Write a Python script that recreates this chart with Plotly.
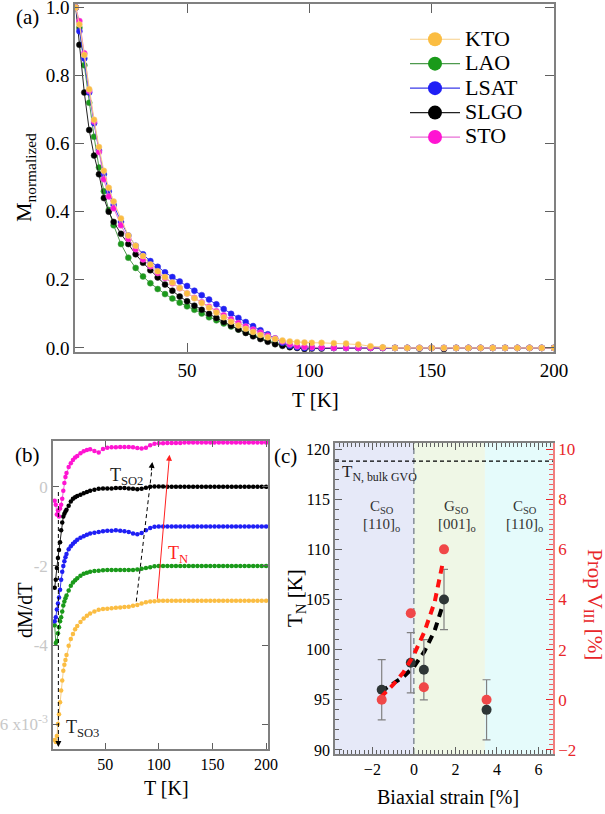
import plotly.graph_objects as go

W, H = 605, 814
FONT = "Liberation Serif, Times New Roman, Times, DejaVu Serif, serif"

# ---------------- panel (a) data ----------------
T_a = [4.5, 6, 8, 10, 12, 14, 16, 18, 20,
       23, 26, 29, 32, 35, 38, 41, 44, 47, 50, 53, 56, 59, 62, 65, 68, 71, 74, 77, 80, 83, 86, 89, 92, 95, 98,
       101,
       105, 110, 115, 120, 125, 130, 135, 140, 145, 150, 155, 160, 165, 170, 175, 180, 185, 190, 195, 200]
M_KTO = [1.0, .95, .86, .76, .67, .59, .52, .47, .43,
         .38, .33, .30, .27, .245, .225, .208, .192, .176, .16, .146, .132, .118, .104, .09, .077, .066, .056, .047, .038, .031, .026, .022, .019, .017, .016,
         .015,
         .015, .014, .013, .010, .005, .002, 0, 0, 0, 0, 0, 0, 0, 0, 0, 0, 0, 0, 0, 0]
M_LAO = [1.0, .94, .83, .72, .62, .53, .46, .405, .36,
         .305, .265, .235, .21, .19, .173, .158, .145, .133, .122, .112, .101, .09, .081, .072, .063, .054, .045, .037, .029, .021, .014, .008, .004, .002, .001,
         .001,
         0, 0, 0, 0, 0, 0, 0, 0, 0, 0, 0, 0, 0, 0, 0, 0, 0, 0, 0, 0]
M_LSAT = [1.0, .93, .85, .75, .66, .58, .51, .46, .42,
          .37, .33, .30, .275, .255, .238, .222, .208, .195, .182, .168, .155, .142, .128, .114, .10, .088, .076, .064, .052, .04, .028, .015, .006, .002, 0,
          0,
          0, 0, 0, 0, 0, 0, 0, 0, 0, 0, 0, 0, 0, 0, 0, 0, 0, 0, 0, 0]
M_SLGO = [1.0, .89, .75, .64, .565, .51, .44, .40, .37,
          .335, .305, .275, .25, .228, .207, .186, .168, .151, .137, .124, .112, .10, .088, .076, .065, .054, .044, .034, .026, .018, .011, .006, .002, 0, -.003,
          -.002,
          -.002, 0, 0, 0, 0, 0, 0, 0, -.002, 0, -.003, 0, 0, 0, 0, 0, 0, 0, 0, 0]
M_STO = [1.0, .96, .865, .755, .665, .575, .495, .445, .41,
         .36, .32, .29, .26, .24, .22, .205, .19, .175, .16, .147, .134, .121, .108, .096, .084, .073, .063, .054, .045, .036, .028, .019, .01, .005, .003,
         .002,
         .001, 0, 0, 0, 0, 0, 0, 0, 0, 0, 0, 0, 0, 0, 0, 0, 0, 0, 0, 0]

# ---------------- panel (b) data (dM/dT, offset curves, x1e-3) ----------------
T_b = [3, 4, 5, 6, 7, 8, 9, 10, 11, 12, 13, 14,
       16, 18, 20, 22, 24, 27, 30, 33, 36,
       40, 44, 48, 52, 56, 60, 64, 68, 72, 76, 80, 84, 88, 92, 96,
       100,
       104, 108, 112, 116, 120, 124, 128, 132, 136, 140, 144, 148, 152, 156, 160, 164, 168, 172, 176, 180, 184, 188, 192, 196, 200]
d_STO = [-0.35, -0.45, -0.7, -0.6, -0.75, -0.55, -0.45, -0.3, -0.1, 0.1, 0.25, 0.35,
         0.5, 0.6, 0.68, 0.74, 0.78, 0.85, 0.9, 0.93, 0.95,
         0.91, 0.87, 0.96, 0.99, 1.0, 1.0, 1.01, 1.01, 1.01, 1.0, 0.98, 0.97, 0.99, 1.05, 1.09,
         1.1,
         1.1, 1.11, 1.11, 1.11, 1.11, 1.12, 1.12, 1.12, 1.12, 1.12, 1.12, 1.12, 1.12, 1.12, 1.12, 1.12, 1.12, 1.12, 1.12, 1.12, 1.12, 1.12, 1.12, 1.12, 1.12]
d_SLGO = [-2.55, -2.35, -2.05, -1.8, -1.6, -1.4, -1.1, -0.9, -0.75, -0.68, -0.62, -0.58,
          -0.48, -0.37, -0.3, -0.26, -0.23, -0.2, -0.16, -0.13, -0.1,
          -0.07, -0.05, -0.04, -0.04, -0.04, -0.03, -0.03, -0.03, -0.04, -0.05, -0.06, -0.05, -0.02, 0.0, 0.01,
          0.01,
          0.01, 0.0, 0.0, 0.0, 0.0, 0.0, 0.0, 0.0, 0.0, 0.0, 0.0, 0.0, 0.0, 0.0, 0.0, 0.0, 0.0, 0.0, 0.0, 0.0, 0.0, 0.0, 0.0, 0.0, 0.0]
d_LSAT = [-3.4, -3.3, -3.1, -2.95, -2.8, -2.6, -2.35, -2.15, -2.0, -1.88, -1.78, -1.7,
          -1.58, -1.5, -1.44, -1.39, -1.34, -1.29, -1.25, -1.21, -1.18,
          -1.16, -1.14, -1.12, -1.11, -1.11, -1.1, -1.11, -1.12, -1.14, -1.18, -1.2, -1.17, -1.1, -1.04, -1.01,
          -1.0,
          -1.0, -1.0, -1.0, -1.0, -1.0, -1.0, -1.0, -1.0, -1.0, -1.0, -1.0, -1.0, -1.0, -1.0, -1.0, -1.0, -1.0, -1.0, -1.0, -1.0, -1.0, -1.0, -1.0, -1.0, -1.0]
d_LAO = [-3.5, -3.95, -3.9, -3.7, -3.55, -3.4, -3.3, -3.15, -3.0, -2.9, -2.82, -2.75,
         -2.62, -2.5, -2.42, -2.36, -2.31, -2.25, -2.2, -2.17, -2.15,
         -2.13, -2.12, -2.11, -2.1, -2.1, -2.1, -2.1, -2.1, -2.1, -2.1, -2.09, -2.07, -2.05, -2.03, -2.01,
         -2.0,
         -2.0, -2.0, -2.0, -2.0, -2.0, -2.0, -2.0, -2.0, -2.0, -2.0, -2.0, -2.0, -2.0, -2.0, -2.0, -2.0, -2.0, -2.0, -2.0, -2.0, -2.0, -2.0, -2.0, -2.0, -2.0]
d_KTO = [-6.4, -6.45, -6.3, -6.0, -5.75, -5.45, -5.15, -4.9, -4.65, -4.5, -4.38, -4.25,
         -4.02, -3.85, -3.72, -3.6, -3.52, -3.42, -3.33, -3.26, -3.2,
         -3.15, -3.11, -3.09, -3.08, -3.07, -3.06, -3.05, -3.04, -3.03, -3.01, -2.99, -2.95, -2.92, -2.9, -2.89,
         -2.88,
         -2.88, -2.88, -2.88, -2.88, -2.88, -2.88, -2.88, -2.88, -2.88, -2.88, -2.88, -2.88, -2.88, -2.88, -2.88, -2.88, -2.88, -2.88, -2.88, -2.88, -2.88, -2.88, -2.88, -2.88, -2.88]

# ---------------- panel (c) data ----------------
strain = [-1.55, -0.15, 0.48, 1.45, 3.5]
T_N = [96.0, 98.7, 98.0, 105.0, 94.0]
T_N_err = [3.0, 3.0, 3.0, 3.0, 3.0]
prop_V = [0.0, 3.45, 0.5, 6.0, 0.0]
fit_strain = [-1.6, -1.0, -0.5, 0.0, 0.5, 1.0, 1.4]
fit_T_N = [95.8, 96.6, 97.3, 98.3, 99.8, 101.9, 104.5]
fit_prop_V = [0.1, 0.6, 1.1, 1.8, 2.7, 3.9, 5.5]
regions = [-3.8, 0.0, 3.42, 6.7]
T_N_bulk = 118.8

labels = ["KTO", "LAO", "LSAT", "SLGO", "STO"]
col = {"KTO": "#fbbd42", "LAO": "#1a9a1a", "LSAT": "#1f1ff5", "SLGO": "#000000", "STO": "#ff14d2"}
lcol = {"KTO": "#f7cf88", "LAO": "#4e9a4e", "LSAT": "#3a3ae8", "SLGO": "#222222", "STO": "#e86fd6"}
M_a = {"KTO": M_KTO, "LAO": M_LAO, "LSAT": M_LSAT, "SLGO": M_SLGO, "STO": M_STO}
D_b = {"KTO": d_KTO, "LAO": d_LAO, "LSAT": d_LSAT, "SLGO": d_SLGO, "STO": d_STO}


def fx(p):
    return p / W


def fy(p):
    return 1 - p / H


fig = go.Figure()

# panel (a)
for k in ["LAO", "SLGO", "LSAT", "STO", "KTO"]:
    fig.add_trace(go.Scatter(x=T_a, y=M_a[k], mode="lines+markers", xaxis="x", yaxis="y",
                             line=dict(color=lcol[k], width=1),
                             marker=dict(color=col[k], size=6, line=dict(color=lcol[k], width=0.5)),
                             showlegend=False))
for k in labels:
    fig.add_trace(go.Scatter(x=[None], y=[None], mode="lines+markers", xaxis="x", yaxis="y",
                             name='<span style="font-size:22px">%s</span>' % k,
                             line=dict(color=lcol[k], width=1.2),
                             marker=dict(color=col[k], size=14), showlegend=True))

# panel (b)
for k in ["KTO", "LAO", "LSAT", "SLGO", "STO"]:
    fig.add_trace(go.Scatter(x=T_b, y=D_b[k], mode="lines+markers", xaxis="x2", yaxis="y2",
                             line=dict(color=lcol[k], width=1),
                             marker=dict(color=col[k], size=4.5),
                             showlegend=False))

# panel (c)
fig.add_trace(go.Scatter(x=fit_strain, y=fit_T_N, mode="lines", xaxis="x3", yaxis="y3",
                         line=dict(color="black", width=4, dash="8px,6px"), showlegend=False))
fig.add_trace(go.Scatter(x=fit_strain, y=fit_prop_V, mode="lines", xaxis="x3", yaxis="y4",
                         line=dict(color="#ff1010", width=4, dash="8px,6px"), showlegend=False))
fig.add_trace(go.Scatter(x=strain, y=T_N, mode="markers", xaxis="x3", yaxis="y3",
                         error_y=dict(type="data", array=T_N_err, color="#808080", thickness=1.2, width=4),
                         marker=dict(color="#2e3636", size=10), showlegend=False))
fig.add_trace(go.Scatter(x=strain, y=prop_V, mode="markers", xaxis="x3", yaxis="y4",
                         marker=dict(color="#f04848", size=10), showlegend=False))

axcommon = dict(showgrid=False, zeroline=False, showline=True, linecolor="#808080", linewidth=1.5,
                ticks="inside", tickcolor="#606060", mirror="ticks", automargin=False,
                ticklabeloverflow="allow")

fig.update_layout(
    width=W, height=H, margin=dict(l=0, r=0, t=0, b=0, autoexpand=False),
    paper_bgcolor="white", plot_bgcolor="white",
    font=dict(family=FONT, color="black"),
    legend=dict(x=fx(405), y=fy(22), xanchor="left", yanchor="top", bgcolor="rgba(0,0,0,0)",
                font=dict(size=16.5, family=FONT), tracegroupgap=0, itemwidth=50),
    xaxis=dict(domain=[fx(75), fx(554)], range=[4.2, 200], anchor="y", tickvals=[50, 100, 150, 200],
               ticklen=9, tickfont=dict(size=19), **axcommon),
    yaxis=dict(domain=[fy(352), fy(4)], range=[-0.012, 1.01], anchor="x", tickvals=[0, 0.2, 0.4, 0.6, 0.8, 1.0],
               ticktext=["0.0", "0.2", "0.4", "0.6", "0.8", "1.0"], ticklen=9, tickfont=dict(size=19), **axcommon),
    xaxis2=dict(domain=[fx(53), fx(268)], range=[1.4, 201.8], anchor="y2", tickvals=[50, 100, 150, 200],
                ticklen=6, tickfont=dict(size=16), **axcommon),
    yaxis2=dict(domain=[fy(749), fy(441)], range=[-6.63, 1.16], anchor="x2", tickvals=[0, -2, -4, -6],
                ticktext=["0", "-2", "-4", "-6 x10<sup>-3</sup>"], ticklen=6,
                tickfont=dict(size=17, color="#c8c8c8"), **axcommon),
    xaxis3=dict(domain=[fx(335), fx(553)], range=[-3.8, 6.7], anchor="y3", tickvals=[-2, 0, 2, 4, 6],
                ticklen=7, tickfont=dict(size=16),
                minor=dict(ticks="inside", dtick=0.2, tick0=0, ticklen=4, tickcolor="#606060"), **axcommon),
    yaxis3=dict(domain=[fy(754), fy(443)], range=[89.6, 120.6], anchor="x3", tickvals=[90, 95, 100, 105, 110, 115, 120],
                ticklen=7, tickfont=dict(size=16),
                minor=dict(ticks="inside", dtick=1, tick0=0, ticklen=4, tickcolor="#606060"),
                showgrid=False, zeroline=False, showline=True, linecolor="#808080", linewidth=1.5,
                ticks="inside", tickcolor="#606060", automargin=False),
    yaxis4=dict(range=[-2.16, 10.24], anchor="x3", overlaying="y3", side="right",
                tickvals=[-2, 0, 2, 4, 6, 8, 10], ticklen=7, tickfont=dict(size=17, color="#e8262a"),
                showgrid=False, zeroline=False, showline=True, linecolor="#f08080", linewidth=1.5,
                ticks="inside", tickcolor="#e8262a", automargin=False,
                minor=dict(ticks="inside", dtick=0.2, tick0=0, ticklen=4, tickcolor="#f06060")),
)

# panel (c) region backgrounds and reference lines
bg = ["#e6e9f8", "#eff7e6", "#e5fbfb"]
for i in range(3):
    fig.add_shape(type="rect", xref="x3", yref="y3 domain", x0=regions[i], x1=regions[i + 1], y0=0, y1=1,
                  fillcolor=bg[i], line=dict(width=0), layer="below")
fig.add_shape(type="line", xref="x3", yref="y3 domain", x0=0, x1=0, y0=0, y1=1,
              line=dict(color="#505a6a", width=1, dash="6px,4px"), layer="below")
fig.add_shape(type="line", xref="x3", yref="y3", x0=regions[0], x1=regions[-1], y0=T_N_bulk, y1=T_N_bulk,
              line=dict(color="black", width=1.2, dash="4px,3px"))

# panel (b) arrows
fig.add_shape(type="line", xref="x2", yref="y2", x0=79, y0=-2.9, x1=93.6, y1=0.45,
              line=dict(color="black", width=1, dash="4px,3px"))
fig.add_shape(type="line", xref="x2", yref="y2", x0=6.4, y0=-0.13, x1=6.4, y1=-6.4,
              line=dict(color="black", width=1, dash="4px,3px"))

C = dict(xanchor="center", yanchor="middle", showarrow=False)
ann = []
ann.append(dict(x=94, y=0.63, xref="x2", yref="y2", ax=-1.2, ay=10, showarrow=True, arrowhead=2,
                arrowsize=1.2, arrowwidth=1, arrowcolor="black", text=""))
ann.append(dict(x=6.4, y=-6.58, xref="x2", yref="y2", ax=0, ay=-10, showarrow=True, arrowhead=2,
                arrowsize=1.2, arrowwidth=1, arrowcolor="black", text=""))
ann.append(dict(x=110, y=0.81, xref="x2", yref="y2", axref="x2", ayref="y2", ax=98.5, ay=-2.87,
                showarrow=True, arrowhead=2, arrowsize=1.2, arrowwidth=1, arrowcolor="#ff2020", text=""))
ann.append(dict(x=70, y=0.25, xref="x2", yref="y2", text="T<sub>SO2</sub>",
                font=dict(size=18, color="#222222"), **C))
ann.append(dict(x=117.6, y=-1.7, xref="x2", yref="y2", text="T<sub>N</sub>",
                font=dict(size=18, color="#ff2020"), **C))
ann.append(dict(x=29, y=-6.1, xref="x2", yref="y2", text="T<sub>SO3</sub>",
                font=dict(size=18, color="#222222"), **C))

# panel (c) texts
ann.append(dict(x=-3.55, y=117.6, xref="x3", yref="y3", xanchor="left", yanchor="middle", text="T<sub>N, bulk GVO</sub>",
                showarrow=False, font=dict(size=17, color="#222222")))
for xc, a, b in [(-1.54, "C<sub>SO</sub>", "[110]<sub>o</sub>"), (2.07, "G<sub>SO</sub>", "[001]<sub>o</sub>"),
                 (5.35, "C<sub>SO</sub>", "[110]<sub>o</sub>")]:
    ann.append(dict(x=xc, y=114.2, xref="x3", yref="y3", text=a, font=dict(size=15, color="#333333"), **C))
    ann.append(dict(x=xc, y=112.4, xref="x3", yref="y3", text=b, font=dict(size=15, color="#333333"), **C))

# axis titles and panel labels
P = dict(xref="paper", yref="paper", **C)
ann += [
    dict(x=fx(25), y=fy(178), text="M<sub>normalized</sub>", textangle=-90, font=dict(size=22), **P),
    dict(x=fx(315), y=fy(400), text="T [K]", font=dict(size=21), **P),
    dict(x=fx(25), y=fy(610), text="dM/dT", textangle=-90, font=dict(size=20), **P),
    dict(x=fx(166), y=fy(788), text="T [K]", font=dict(size=20), **P),
    dict(x=fx(448), y=fy(797), text="Biaxial strain [%]", font=dict(size=20), **P),
    dict(x=fx(296), y=fy(598), text="T<sub>N</sub> [K]", textangle=-90, font=dict(size=21), **P),
    dict(x=fx(594), y=fy(604), text="Prop V<sub>III</sub> [%]", textangle=90,
         font=dict(size=21, color="#e8262a"), **P),
    dict(x=fx(27), y=fy(17), text="(a)", font=dict(size=21), **P),
    dict(x=fx(27), y=fy(455), text="(b)", font=dict(size=21), **P),
    dict(x=fx(285), y=fy(456), text="(c)", font=dict(size=21), **P),
]
fig.update_layout(annotations=ann)

fig.write_html("out.html", config={"displayModeBar": False},
               post_script="document.body.style.margin='0';document.body.style.padding='0';")
